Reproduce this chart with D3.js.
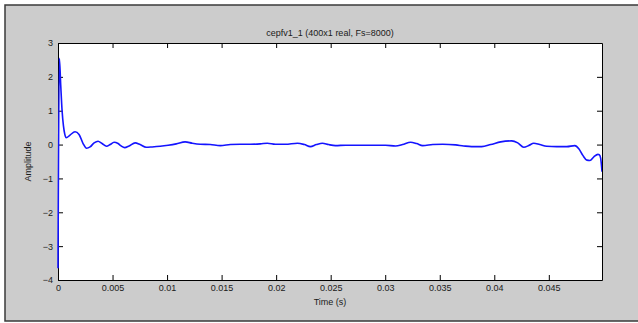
<!DOCTYPE html>
<html>
<head>
<meta charset="utf-8">
<script src="https://cdn.jsdelivr.net/npm/d3@7"></script>
<style>
html,body{margin:0;padding:0;background:#fff;}
svg{display:block;}
text{font-family:"Liberation Sans",Arial,sans-serif;}
</style>
</head>
<body>
<svg id="chart" width="638" height="323"></svg>
<script>
// ---- data ----
const chartTitle = "cepfv1_1 (400x1 real, Fs=8000)";
const xLabel = "Time (s)";
const yLabel = "Amplitude";
const xTicks = [0, 0.005, 0.01, 0.015, 0.02, 0.025, 0.03, 0.035, 0.04, 0.045];
const xTickLabels = ["0","0.005","0.01","0.015","0.02","0.025","0.03","0.035","0.04","0.045"];
const yTicks = [-4, -3, -2, -1, 0, 1, 2, 3];
const xDomain = [0, 0.049875];
const yDomain = [-4, 3];
const times = [0, 0.000125, 0.00025, 0.000375, 0.0005, 0.000625, 0.00075,
  0.0011, 0.00156, 0.00193, 0.0023, 0.00262, 0.00294, 0.00331, 0.00367, 0.00404,
  0.00445, 0.00478, 0.00514, 0.00551, 0.00579, 0.00611, 0.00652, 0.00707, 0.00753,
  0.00808, 0.00863, 0.00937, 0.0101, 0.01084, 0.01166, 0.01231, 0.01304, 0.01396,
  0.01488, 0.0158, 0.01671, 0.01763, 0.01855, 0.01919, 0.01993, 0.02085, 0.02195,
  0.02259, 0.02314, 0.02369, 0.02424, 0.0248, 0.02544, 0.02636, 0.02728, 0.02819,
  0.02911, 0.03003, 0.03095, 0.03159, 0.03233, 0.03288, 0.03343, 0.03435, 0.03527,
  0.03646, 0.03719, 0.03792, 0.03884, 0.03967, 0.04059, 0.0416, 0.04215, 0.0427,
  0.04316, 0.04362, 0.04417, 0.04481, 0.04573, 0.04665, 0.04738, 0.04775, 0.04812,
  0.04849, 0.04877, 0.04913, 0.0495, 0.049625, 0.04975, 0.049875];
const amplitude = [-3.65, 2.55, 1.75, 1.0, 0.55, 0.3, 0.2,
  0.28, 0.38, 0.3, 0.03, -0.11, -0.07, 0.05, 0.1, 0.03,
  -0.05, 0.0, 0.07, 0.03, -0.04, -0.09, -0.04, 0.05, 0.0,
  -0.08, -0.07, -0.05, -0.02, 0.02, 0.08, 0.04, 0.01, 0.0,
  -0.03, 0.0, 0.01, 0.01, 0.02, 0.04, 0.01, 0.01, 0.04,
  0.0, -0.06, 0.0, 0.04, 0.0, -0.03, -0.02, -0.02, -0.02,
  -0.02, -0.02, -0.04, 0.0, 0.07, 0.03, -0.03, 0.0, 0.01,
  -0.01, -0.04, -0.06, -0.06, 0.0, 0.08, 0.11, 0.05, -0.08,
  -0.03, 0.04, 0.0, -0.05, -0.06, -0.06, -0.03, -0.12, -0.32,
  -0.46, -0.47, -0.36, -0.29, -0.3, -0.4, -0.8];

// ---- layout ----
const svg = d3.select("#chart");
const plot = {left: 58, top: 43, right: 602, bottom: 280};

svg.append("rect").attr("x", 5).attr("y", 5).attr("width", 640).attr("height", 316)
  .attr("fill", "#cccccc").attr("stroke", "#3a3a3a").attr("stroke-width", 1.5);

const x = d3.scaleLinear().domain(xDomain).range([plot.left, plot.right]);
const y = d3.scaleLinear().domain(yDomain).range([plot.bottom, plot.top]);

svg.append("rect").attr("x", plot.left).attr("y", plot.top)
  .attr("width", plot.right - plot.left).attr("height", plot.bottom - plot.top)
  .attr("fill", "#ffffff");

const tickLen = 5;
const fmtX = (d, i) => xTickLabels[i];
function styleAxis(g) {
  g.selectAll("path.domain").attr("stroke", "#000").attr("stroke-width", 1);
  g.selectAll(".tick line").attr("stroke", "#000").attr("stroke-width", 1);
  g.selectAll(".tick text").attr("fill", "#1a1a1a").style("font-size", "9px")
    .style("font-family", '"Liberation Sans",Arial,sans-serif');
}
svg.append("g").attr("transform", `translate(0,${plot.bottom})`)
  .call(d3.axisBottom(x).tickValues(xTicks).tickFormat(fmtX)
    .tickSizeInner(-tickLen).tickSizeOuter(0).tickPadding(5))
  .call(styleAxis);
svg.append("g").attr("transform", `translate(0,${plot.top})`)
  .call(d3.axisTop(x).tickValues(xTicks).tickFormat("")
    .tickSizeInner(-tickLen).tickSizeOuter(0))
  .call(styleAxis);
svg.append("g").attr("transform", `translate(${plot.left},0)`)
  .call(d3.axisLeft(y).tickValues(yTicks).tickFormat(d3.format("d"))
    .tickSizeInner(-tickLen).tickSizeOuter(0).tickPadding(5))
  .call(styleAxis);
svg.append("g").attr("transform", `translate(${plot.right},0)`)
  .call(d3.axisRight(y).tickValues(yTicks).tickFormat("")
    .tickSizeInner(-tickLen).tickSizeOuter(0))
  .call(styleAxis);

// signal line drawn over the axes (as in the reference)
const data = times.map((t, i) => ({t, v: amplitude[i]}));
svg.append("clipPath").attr("id", "clip").append("rect")
  .attr("x", plot.left - 1).attr("y", plot.top)
  .attr("width", plot.right - plot.left + 1).attr("height", plot.bottom - plot.top - 1);
svg.append("path").datum(data)
  .attr("clip-path", "url(#clip)")
  .attr("fill", "none").attr("stroke", "#1414ff").attr("stroke-width", 1.6)
  .attr("stroke-linejoin", "round")
  .attr("d", d3.line().x(d => x(d.t)).y(d => y(d.v)).curve(d3.curveMonotoneX));

svg.append("text").attr("x", (plot.left + plot.right) / 2).attr("y", 36)
  .attr("text-anchor", "middle").style("font-size", "9px").attr("fill", "#1a1a1a")
  .text(chartTitle);
svg.append("text").attr("x", (plot.left + plot.right) / 2).attr("y", 305)
  .attr("text-anchor", "middle").style("font-size", "9px").attr("fill", "#1a1a1a")
  .text(xLabel);
svg.append("text")
  .attr("transform", `translate(31,${(plot.top + plot.bottom) / 2}) rotate(-90)`)
  .attr("text-anchor", "middle").style("font-size", "9px").attr("fill", "#1a1a1a")
  .text(yLabel);
</script>
</body>
</html>
